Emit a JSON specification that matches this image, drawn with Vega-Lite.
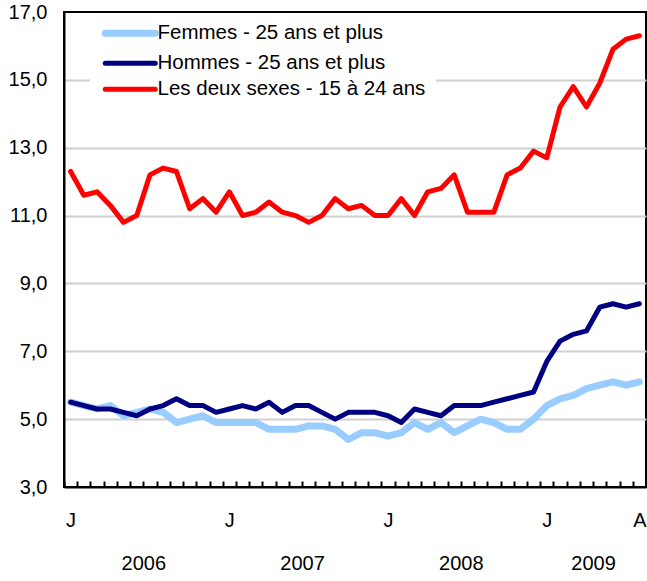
{
  "$schema": "https://vega.github.io/schema/vega-lite/v6.json",
  "width": 582,
  "height": 475,
  "autosize": "none",
  "padding": {"left": 64, "top": 12, "right": 1, "bottom": 94},
  "background": "white",
  "config": {
    "font": "Liberation Sans",
    "view": {"stroke": "black", "strokeWidth": 2},
    "legend": {
      "labelFontSize": 20.5,
      "labelColor": "black",
      "labelFont": "Liberation Sans",
      "labelLimit": 0,
      "symbolType": "M-5,0H5",
      "symbolSize": 100,
      "symbolFillColor": "transparent",
      "rowPadding": 5,
      "labelOffset": 17,
      "symbolOffset": 20,
      "padding": 10,
      "fillColor": "white"
    }
  },
  "data": {
    "values": [
      {"t": 0, "F": 5.5, "H": 5.5, "J": 12.3},
      {"t": 1, "F": 5.4, "H": 5.4, "J": 11.6},
      {"t": 2, "F": 5.3, "H": 5.3, "J": 11.7},
      {"t": 3, "F": 5.4, "H": 5.3, "J": 11.3},
      {"t": 4, "F": 5.1, "H": 5.2, "J": 10.8},
      {"t": 5, "F": 5.2, "H": 5.1, "J": 11.0},
      {"t": 6, "F": 5.3, "H": 5.3, "J": 12.2},
      {"t": 7, "F": 5.2, "H": 5.4, "J": 12.4},
      {"t": 8, "F": 4.9, "H": 5.6, "J": 12.3},
      {"t": 9, "F": 5.0, "H": 5.4, "J": 11.2},
      {"t": 10, "F": 5.1, "H": 5.4, "J": 11.5},
      {"t": 11, "F": 4.9, "H": 5.2, "J": 11.1},
      {"t": 12, "F": 4.9, "H": 5.3, "J": 11.7},
      {"t": 13, "F": 4.9, "H": 5.4, "J": 11.0},
      {"t": 14, "F": 4.9, "H": 5.3, "J": 11.1},
      {"t": 15, "F": 4.7, "H": 5.5, "J": 11.4},
      {"t": 16, "F": 4.7, "H": 5.2, "J": 11.1},
      {"t": 17, "F": 4.7, "H": 5.4, "J": 11.0},
      {"t": 18, "F": 4.8, "H": 5.4, "J": 10.8},
      {"t": 19, "F": 4.8, "H": 5.2, "J": 11.0},
      {"t": 20, "F": 4.7, "H": 5.0, "J": 11.5},
      {"t": 21, "F": 4.4, "H": 5.2, "J": 11.2},
      {"t": 22, "F": 4.6, "H": 5.2, "J": 11.3},
      {"t": 23, "F": 4.6, "H": 5.2, "J": 11.0},
      {"t": 24, "F": 4.5, "H": 5.1, "J": 11.0},
      {"t": 25, "F": 4.6, "H": 4.9, "J": 11.5},
      {"t": 26, "F": 4.9, "H": 5.3, "J": 11.0},
      {"t": 27, "F": 4.7, "H": 5.2, "J": 11.7},
      {"t": 28, "F": 4.9, "H": 5.1, "J": 11.8},
      {"t": 29, "F": 4.6, "H": 5.4, "J": 12.2},
      {"t": 30, "F": 4.8, "H": 5.4, "J": 11.1},
      {"t": 31, "F": 5.0, "H": 5.4, "J": 11.1},
      {"t": 32, "F": 4.9, "H": 5.5, "J": 11.1},
      {"t": 33, "F": 4.7, "H": 5.6, "J": 12.2},
      {"t": 34, "F": 4.7, "H": 5.7, "J": 12.4},
      {"t": 35, "F": 5.0, "H": 5.8, "J": 12.9},
      {"t": 36, "F": 5.4, "H": 6.7, "J": 12.7},
      {"t": 37, "F": 5.6, "H": 7.3, "J": 14.2},
      {"t": 38, "F": 5.7, "H": 7.5, "J": 14.8},
      {"t": 39, "F": 5.9, "H": 7.6, "J": 14.2},
      {"t": 40, "F": 6.0, "H": 8.3, "J": 14.9},
      {"t": 41, "F": 6.1, "H": 8.4, "J": 15.9},
      {"t": 42, "F": 6.0, "H": 8.3, "J": 16.2},
      {"t": 43, "F": 6.1, "H": 8.4, "J": 16.3}
    ]
  },
  "transform": [
    {"fold": ["F", "H", "J"], "as": ["k", "taux"]},
    {
      "lookup": "k",
      "from": {
        "data": {
          "values": [
            {"k": "F", "serie": "Femmes - 25 ans et plus"},
            {"k": "H", "serie": "Hommes - 25 ans et plus"},
            {"k": "J", "serie": "Les deux sexes - 15 à 24 ans"}
          ]
        },
        "key": "k",
        "fields": ["serie"]
      }
    }
  ],
  "mark": {"type": "line", "strokeCap": "round", "strokeJoin": "round"},
  "encoding": {
    "x": {
      "field": "t",
      "type": "quantitative",
      "scale": {"domain": [-0.5, 43.5], "nice": false, "zero": false},
      "axis": {
        "title": null,
        "grid": false,
        "values": [-0.5, 0.5, 1.5, 2.5, 3.5, 4.5, 5.5, 6.5, 7.5, 8.5, 9.5, 10.5, 11.5, 12.5, 13.5, 14.5, 15.5, 16.5, 17.5, 18.5, 19.5, 20.5, 21.5, 22.5, 23.5, 24.5, 25.5, 26.5, 27.5, 28.5, 29.5, 30.5, 31.5, 32.5, 33.5, 34.5, 35.5, 36.5, 37.5, 38.5, 39.5, 40.5, 41.5, 42.5, 43.5],
        "domain": true,
        "domainColor": "black",
        "domainWidth": 2,
        "ticks": true,
        "tickSize": -6,
        "tickColor": "black",
        "tickWidth": 2,
        "labelExpr": "datum.value==-0.5||datum.value==11.5||datum.value==23.5||datum.value==35.5 ? 'J' : datum.value==42.5 ? 'A' : datum.value==5.5 ? '2006' : datum.value==17.5 ? '2007' : datum.value==29.5 ? '2008' : datum.value==39.5 ? '2009' : ''",
        "labelOffset": {"condition": {"test": "datum.value==5.5||datum.value==17.5||datum.value==29.5||datum.value==39.5", "value": 0}, "value": 6.6},
        "labelPadding": {"condition": {"test": "datum.value==5.5||datum.value==17.5||datum.value==29.5||datum.value==39.5", "value": 72}, "value": 29},
        "labelFlush": false,
        "labelOverlap": false,
        "labelBound": false,
        "labelAngle": 0,
        "labelAlign": "center",
        "labelBaseline": "top",
        "labelFontSize": 20,
        "labelColor": "black"
      }
    },
    "y": {
      "field": "taux",
      "type": "quantitative",
      "scale": {"domain": [3, 17], "nice": false, "zero": false},
      "axis": {
        "title": null,
        "values": [3, 5, 7, 9, 11, 13, 15, 17],
        "grid": true,
        "gridColor": "#d0d0d0",
        "gridWidth": 2,
        "gridOpacity": {"condition": {"test": "datum.value==3||datum.value==17", "value": 0}, "value": 1},
        "ticks": false,
        "domain": true,
        "domainColor": "black",
        "domainWidth": 2,
        "labelExpr": "replace(format(datum.value, '.1f'), '.', ',')",
        "labelFontSize": 20,
        "labelPadding": 17,
        "labelColor": "black"
      }
    },
    "color": {
      "field": "serie",
      "type": "nominal",
      "scale": {
        "domain": ["Femmes - 25 ans et plus", "Hommes - 25 ans et plus", "Les deux sexes - 15 à 24 ans"],
        "range": ["#99CCFF", "#000080", "#FF0000"]
      },
      "legend": {
        "title": null,
        "orient": "none",
        "legendX": 26,
        "legendY": 1,
        "encode": {"symbols": {"update": {"strokeCap": {"value": "round"}}}}
      }
    },
    "strokeWidth": {
      "field": "serie",
      "type": "nominal",
      "scale": {
        "type": "ordinal",
        "domain": ["Femmes - 25 ans et plus", "Hommes - 25 ans et plus", "Les deux sexes - 15 à 24 ans"],
        "range": [7, 5, 5]
      },
      "legend": {
        "title": null,
        "orient": "none",
        "legendX": 26,
        "legendY": 1
      }
    }
  }
}
